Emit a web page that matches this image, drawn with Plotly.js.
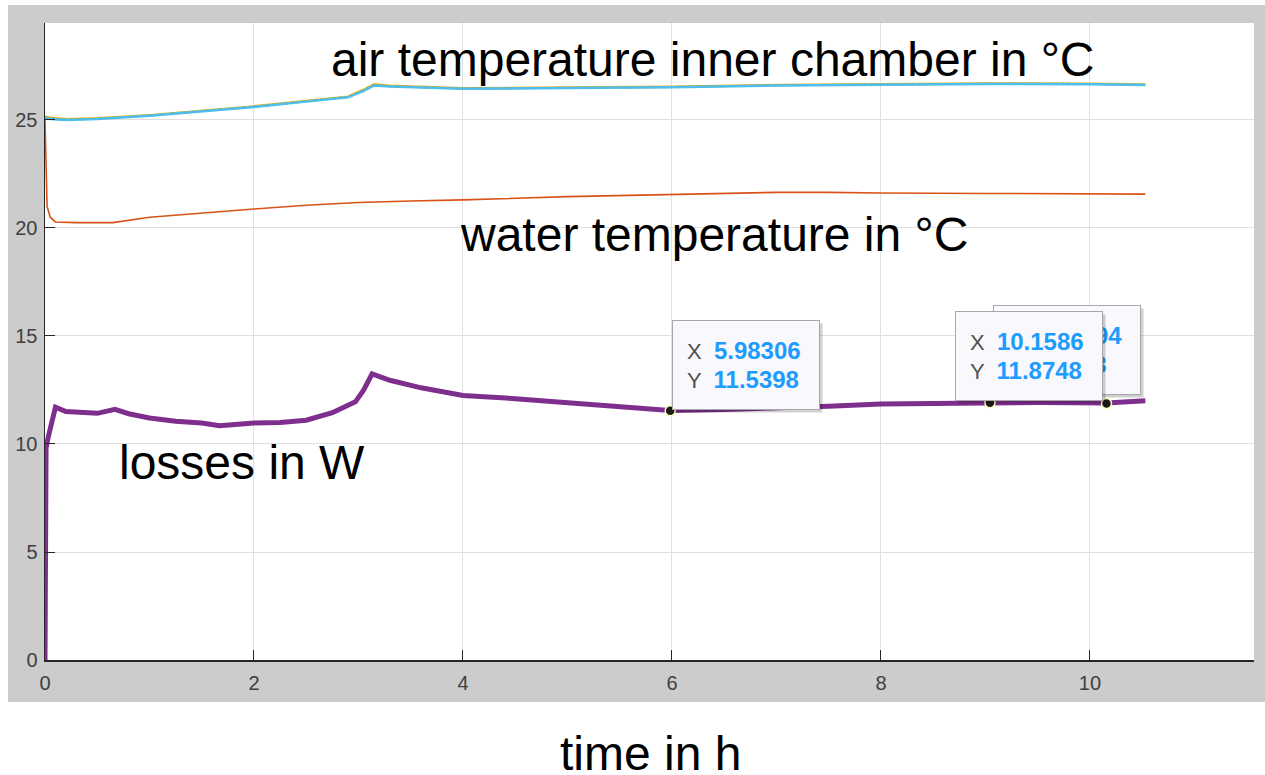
<!DOCTYPE html>
<html>
<head>
<meta charset="utf-8">
<script src="https://cdn.plot.ly/plotly-3.0.1.min.js"></script>
<style>html,body{margin:0;padding:0;background:#fff;}#chart{width:1265px;height:775px;}</style>
</head>
<body>
<div id="chart"></div>
<script>
// ---- data ----
const timeAir = [0, 0.05, 0.2, 0.5, 1.0, 1.5, 2.0, 2.5, 2.9, 3.05, 3.15, 3.3, 3.6, 4.0, 5.0, 6.0, 7.0, 8.0, 9.0, 10.0, 10.53];
const airCyan = [25.1, 25.05, 25.0, 25.05, 25.2, 25.4, 25.6, 25.85, 26.05, 26.35, 26.6, 26.55, 26.5, 26.45, 26.48, 26.52, 26.6, 26.65, 26.67, 26.66, 26.62];
const airYellow = [25.15, 25.1, 25.03, 25.08, 25.22, 25.43, 25.63, 25.88, 26.08, 26.4, 26.65, 26.58, 26.52, 26.47, 26.5, 26.54, 26.62, 26.67, 26.69, 26.68, 26.64];
const airGreen = [25.12, 25.07, 25.02, 25.06, 25.21, 25.42, 25.62, 25.87, 26.07, 26.38, 26.62, 26.56, 26.51, 26.46, 26.49, 26.53, 26.61, 26.66, 26.68, 26.67, 26.63];

const timeWater = [0, 0.005, 0.02, 0.05, 0.1, 0.3, 0.65, 1.0, 1.5, 2.0, 2.5, 3.0, 3.5, 4.0, 5.0, 6.0, 7.0, 7.5, 8.0, 9.0, 10.0, 10.53];
const water = [25.0, 23.5, 21.0, 20.5, 20.28, 20.25, 20.25, 20.5, 20.7, 20.88, 21.05, 21.18, 21.25, 21.3, 21.45, 21.55, 21.65, 21.65, 21.62, 21.6, 21.58, 21.57];

const timeLoss = [0, 0.005, 0.01, 0.03, 0.1, 0.2, 0.35, 0.5, 0.67, 0.8, 1.0, 1.25, 1.5, 1.67, 2.0, 2.25, 2.5, 2.75, 2.97, 3.05, 3.13, 3.2, 3.3, 3.6, 4.0, 4.5, 5.0, 5.5, 5.98, 6.5, 7.0, 7.5, 8.0, 8.5, 9.0, 9.5, 10.16, 10.53];
const loss = [0, 5, 9.8, 10.3, 11.7, 11.5, 11.45, 11.42, 11.6, 11.4, 11.2, 11.05, 10.97, 10.85, 10.97, 11.0, 11.1, 11.45, 11.95, 12.5, 13.25, 13.15, 12.95, 12.6, 12.25, 12.1, 11.9, 11.75, 11.55, 11.6, 11.65, 11.75, 11.85, 11.85, 11.9, 11.92, 11.9, 12.0];

const tipX = [5.98306, 9.04294, 10.1586];
const tipY = [11.5398, 11.913, 11.8748];
const tipXText = ['5.98306', '9.04294', '10.1586'];
const tipYText = ['11.5398', '11.913', '11.8748'];

const xTicks = [0, 2, 4, 6, 8, 10];
const yTicks = [0, 5, 10, 15, 20, 25];

const labelAir = 'air temperature inner chamber in °C';
const labelWater = 'water temperature in °C';
const labelLoss = 'losses in W';
const labelTime = 'time in h';

// ---- traces ----
const traces = [
  {x: timeAir, y: airYellow, mode: 'lines', line: {color: '#EDB120', width: 2.5}, hoverinfo: 'skip'},
  {x: timeAir, y: airGreen, mode: 'lines', line: {color: '#77AC30', width: 2, dash: 'dot'}, hoverinfo: 'skip'},
  {x: timeAir, y: airCyan, mode: 'lines', line: {color: '#4DBEEE', width: 2.5}, hoverinfo: 'skip'},
  {x: timeWater, y: water, mode: 'lines', line: {color: '#D95319', width: 1.6}, hoverinfo: 'skip'},
  {x: timeLoss, y: loss, mode: 'lines', line: {color: '#7E2F8E', width: 5}, hoverinfo: 'skip'},
  {x: tipX, y: tipY, mode: 'markers', marker: {color: '#1a1a1a', size: 10, line: {color: '#ffffc0', width: 1.5}}, hoverinfo: 'skip'}
];

const tipFont = {family: 'Liberation Sans, Arial, sans-serif', size: 22, color: '#505050'};
function tipText(i, col) {
  return 'X  <b><span style="color:' + col + ';font-size:24px">' + tipXText[i] + '</span></b><br>Y  <b><span style="color:' + col + ';font-size:24px">' + tipYText[i] + '</span></b>';
}
function tipAnn(i, xanchor, xshift, yshift) {
  const base = {x: tipX[i], y: tipY[i], xref: 'x', yref: 'y', showarrow: false,
    xanchor: xanchor, yanchor: 'bottom', align: 'left', width: 118, height: 60, borderpad: 14,
    font: tipFont};
  const shadow = Object.assign({}, base, {xshift: xshift + 3, yshift: yshift - 3,
    bgcolor: 'rgba(0,0,0,0.18)', borderwidth: 1, bordercolor: 'rgba(0,0,0,0)',
    font: Object.assign({}, tipFont, {color: 'rgba(0,0,0,0)'}),
    text: tipText(i, 'rgba(0,0,0,0)')});
  const box = Object.assign({}, base, {xshift: xshift, yshift: yshift, text: tipText(i, '#1e9bff'),
    bgcolor: '#f8f8fd', bordercolor: '#a8a8a8', borderwidth: 1});
  return [shadow, box];
}

const bigFont = {family: 'Liberation Sans, Arial, sans-serif', size: 48, color: '#000'};
const annotations = [
  ...tipAnn(1, 'left', 3, 8),
  ...tipAnn(2, 'right', -4, 3),
  ...tipAnn(0, 'left', 2, 1),
  {x: 0.5525, y: 0.9433, xref: 'paper', yref: 'paper', text: labelAir, showarrow: false, font: bigFont, xanchor: 'center', yanchor: 'middle'},
  {x: 0.5533, y: 0.6672, xref: 'paper', yref: 'paper', text: labelWater, showarrow: false, font: bigFont, xanchor: 'center', yanchor: 'middle'},
  {x: 0.1629, y: 0.3093, xref: 'paper', yref: 'paper', text: labelLoss, showarrow: false, font: bigFont, xanchor: 'center', yanchor: 'middle'},
  {x: 0.5012, y: -0.146, xref: 'paper', yref: 'paper', text: labelTime, showarrow: false, font: bigFont, xanchor: 'center', yanchor: 'middle', height: 44, valign: 'middle', borderpad: 0}
];

const tickFont = {family: 'Liberation Sans, Arial, sans-serif', size: 20, color: '#404040'};
const layout = {
  width: 1265, height: 775,
  margin: {l: 45, r: 11, t: 23, b: 115, pad: 0},
  paper_bgcolor: '#ffffff', plot_bgcolor: '#ffffff',
  showlegend: false,
  xaxis: {range: [0, 11.57], tickvals: xTicks, ticktext: xTicks.map(String), ticks: 'inside', ticklen: 10,
    tickcolor: '#262626', showline: true, linecolor: '#262626', linewidth: 1.5, showgrid: true,
    gridcolor: '#e0e0e0', gridwidth: 1, zeroline: false, tickfont: tickFont, fixedrange: true,
    ticklabelstandoff: 4},
  yaxis: {range: [0, 29.49], tickvals: yTicks, ticktext: yTicks.map(String), ticks: 'inside', ticklen: 10,
    tickcolor: '#262626', showline: true, linecolor: '#262626', linewidth: 1.5, showgrid: true,
    gridcolor: '#e0e0e0', gridwidth: 1, zeroline: false, tickfont: tickFont, fixedrange: true,
    ticklabelstandoff: 2},
  shapes: [
    {type: 'rect', xref: 'paper', yref: 'paper', x0: -0.0306, x1: 1.0091, y0: -0.0659, y1: 1.0283,
      fillcolor: '#cccccc', line: {width: 0}, layer: 'below'},
    {type: 'rect', xref: 'paper', yref: 'paper', x0: 0, x1: 1, y0: 0, y1: 1,
      fillcolor: '#ffffff', line: {width: 0}, layer: 'below'}
  ],
  annotations: annotations
};

Plotly.newPlot('chart', traces, layout, {displayModeBar: false, staticPlot: true});
</script>
</body>
</html>
